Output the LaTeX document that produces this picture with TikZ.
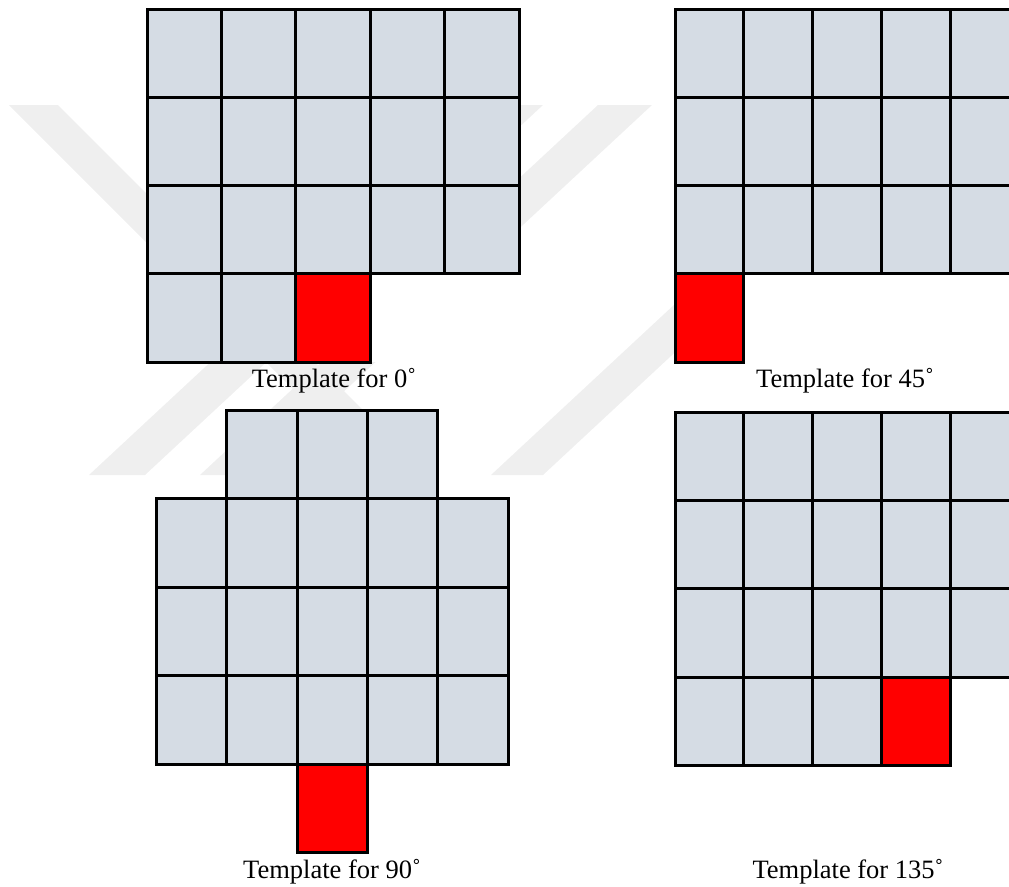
\documentclass[tikz,border=0pt]{standalone}
\usepackage{fontspec}
\setmainfont{Liberation Serif}
\usepackage{xcolor}
\usetikzlibrary{positioning}
\definecolor{cellGray}{HTML}{D5DCE4}
\definecolor{hotRed}{HTML}{FF0000}
\definecolor{wmGray}{HTML}{EFEFEF}

\begin{document}
\begin{tikzpicture}[
  x=1pt, y=-1pt,
  cell/.style={draw, line width=3pt, fill=cellGray, inner sep=0pt, outer sep=0pt, anchor=north west},
  cellA/.style={cell, minimum width=74.4pt, minimum height=88.25pt},
  cellB/.style={cell, minimum width=68.75pt, minimum height=88.25pt},
  cellC/.style={cell, minimum width=70.26pt, minimum height=88.5pt},
  cellD/.style={cell, minimum width=68.75pt, minimum height=88.4pt},
  hot/.style={fill=hotRed},
  caption/.style={font=\fontsize{26.5}{31}\selectfont, anchor=base, inner sep=0pt},
  wmband/.style={fill=wmGray, draw=none}
]
\useasboundingbox (0,0) rectangle (1009,886);
\clip (0,0) rectangle (1009,886);

% faint watermark behind the panels
\fill[wmband] (9,105) -- (58,105) -- (428,475) -- (379,475) -- cycle;
\fill[wmband] (89,475) -- (145,475) -- (543,105) -- (487,105) -- cycle;
\fill[wmband] (598,105) -- (652,105) -- (254,475) -- (200,475) -- cycle;
\fill[wmband] (491,475) -- (543,475) -- (941,105) -- (889,105) -- cycle;
\fill[white] (147,9) rectangle (519,362);
\fill[white] (675,9) rectangle (1009,362);

% Template for 0
\foreach \r in {0,1,2}
  \foreach \c in {0,...,4}
    \node[cellA] (z\r\c) at ({147+\c*74.4}, {9+\r*88.25}) {};
\foreach \c in {0,1}
  \node[cellA] (z3\c) at ({147+\c*74.4}, 273.75) {};
\node[cellA, hot] (z32) at (295.8, 273.75) {};
\node[caption] (capz) at (334, 387) {Template for 0˚};

% Template for 45
\foreach \r in {0,1,2}
  \foreach \c in {0,...,4}
    \node[cellB] (f\r\c) at ({675+\c*68.75}, {9+\r*88.25}) {};
\node[cellB, hot] (f30) at (675, 273.75) {};
\node[caption] (capf) at (845, 387) {Template for 45˚};

% Template for 90
\foreach \c in {1,2,3}
  \node[cellC] (n0\c) at ({156.7+\c*70.26}, 410) {};
\foreach \r in {1,2,3}
  \foreach \c in {0,...,4}
    \node[cellC] (n\r\c) at ({156.7+\c*70.26}, {410+\r*88.5}) {};
\node[cellC, hot] (n42) at (297.22, 764) {};
\node[caption] (capn) at (332, 878) {Template for 90˚};

% Template for 135
\foreach \r in {0,1,2}
  \foreach \c in {0,...,4}
    \node[cellD] (t\r\c) at ({675+\c*68.75}, {412+\r*88.4}) {};
\foreach \c in {0,1,2}
  \node[cellD] (t3\c) at ({675+\c*68.75}, 677.2) {};
\node[cellD, hot] (t33) at (881.25, 677.2) {};
\node[caption] (capt) at (848, 878) {Template for 135˚};
\end{tikzpicture}
\end{document}
